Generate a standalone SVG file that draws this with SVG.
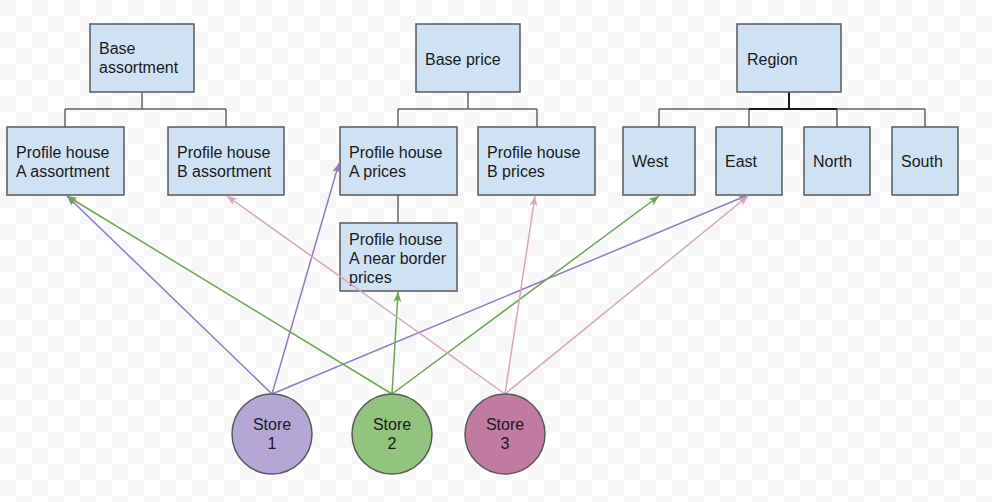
<svg xmlns="http://www.w3.org/2000/svg" width="992" height="502" viewBox="0 0 992 502">
<style>
.box{fill:#cfe2f3;stroke:#595959;stroke-width:1.5}
.t{font-family:"Liberation Sans",Arial,sans-serif;font-size:16px;fill:#1a1a1a}
.tc{font-family:"Liberation Sans",Arial,sans-serif;font-size:16px;fill:#1a1a1a;text-anchor:middle}
.tree{fill:none;stroke:#666;stroke-width:1.5}
.e{fill:none;stroke-width:1.5}
.p{stroke:#8e7cc3}
.g{stroke:#6aa84f}
.k{stroke:#d5a6bd}
.st{stroke:#595959;stroke-width:1.5}
</style>
<defs>
<pattern id="chk" width="32" height="32" patternUnits="userSpaceOnUse">
<rect width="32" height="32" fill="#ffffff"/>
<rect width="16" height="16" fill="#f6f6f6"/>
<rect x="16" y="16" width="16" height="16" fill="#f6f6f6"/>
</pattern>
<marker id="ap" viewBox="0 0 10 8" refX="10" refY="4" markerWidth="10" markerHeight="8" markerUnits="userSpaceOnUse" orient="auto"><path d="M0,0 L10,4 L0,8 L2.5,4 z" fill="#8e7cc3"/></marker>
<marker id="ag" viewBox="0 0 10 8" refX="10" refY="4" markerWidth="10" markerHeight="8" markerUnits="userSpaceOnUse" orient="auto"><path d="M0,0 L10,4 L0,8 L2.5,4 z" fill="#6aa84f"/></marker>
<marker id="ak" viewBox="0 0 10 8" refX="10" refY="4" markerWidth="10" markerHeight="8" markerUnits="userSpaceOnUse" orient="auto"><path d="M0,0 L10,4 L0,8 L2.5,4 z" fill="#d5a6bd"/></marker>
</defs>
<rect width="992" height="502" fill="url(#chk)"/>

<g id="tree-connectors">
<path class="tree" d="M142,92 V109 M65,109 H226 M65,109 V127 M226,109 V127"/>
<path class="tree" d="M468,92 V109 M398,109 H537 M398,109 V127 M537,109 V127 M398,195 V223"/>
<path class="tree" d="M659,109 H925 M659,109 V127 M749,109 V127 M837,109 V127 M925,109 V127"/>
<path d="M789,92 V109 M749,109 H837" fill="none" stroke="#1a1a1a" stroke-width="2"/>
</g>

<g id="base-assortment"><rect class="box" x="90" y="24" width="104" height="68"/><text class="t" x="99" y="54">Base</text><text class="t" x="99" y="73">assortment</text></g>
<g id="profile-a-assortment"><rect class="box" x="7" y="127" width="117" height="68"/><text class="t" x="16" y="158">Profile house</text><text class="t" x="16" y="177">A assortment</text></g>
<g id="profile-b-assortment"><rect class="box" x="168" y="127" width="116" height="68"/><text class="t" x="177" y="158">Profile house</text><text class="t" x="177" y="177">B assortment</text></g>

<g id="base-price"><rect class="box" x="416" y="24" width="104" height="68"/><text class="t" x="425" y="65">Base price</text></g>
<g id="profile-a-prices"><rect class="box" x="340" y="127" width="117" height="68"/><text class="t" x="349" y="158">Profile house</text><text class="t" x="349" y="177">A prices</text></g>
<g id="profile-b-prices"><rect class="box" x="478" y="127" width="117" height="68"/><text class="t" x="487" y="158">Profile house</text><text class="t" x="487" y="177">B prices</text></g>
<g id="profile-a-near-border"><rect class="box" x="340" y="223" width="117" height="68"/><text class="t" x="349" y="245">Profile house</text><text class="t" x="349" y="264">A near border</text><text class="t" x="349" y="283">prices</text></g>

<g id="region"><rect class="box" x="737" y="24" width="104" height="68"/><text class="t" x="747" y="65">Region</text></g>
<g id="west"><rect class="box" x="623" y="127" width="72" height="68"/><text class="t" x="632" y="167">West</text></g>
<g id="east"><rect class="box" x="716" y="127" width="66" height="68"/><text class="t" x="725" y="167">East</text></g>
<g id="north"><rect class="box" x="804" y="127" width="66" height="68"/><text class="t" x="813" y="167">North</text></g>
<g id="south"><rect class="box" x="892" y="127" width="66" height="68"/><text class="t" x="901" y="167">South</text></g>

<g id="connectors">
<line class="e p" x1="272" y1="394" x2="67" y2="196" marker-end="url(#ap)"/>
<line class="e p" x1="272" y1="394" x2="339" y2="163" marker-end="url(#ap)"/>
<line class="e p" x1="272" y1="394" x2="748" y2="195" marker-end="url(#ap)"/>
<line class="e g" x1="392" y1="394" x2="67" y2="196" marker-end="url(#ag)"/>
<line class="e g" x1="392" y1="394" x2="398" y2="292" marker-end="url(#ag)"/>
<line class="e g" x1="392" y1="394" x2="659" y2="196" marker-end="url(#ag)"/>
<line class="e k" x1="505" y1="394" x2="227" y2="196" marker-end="url(#ak)"/>
<line class="e k" x1="505" y1="394" x2="535" y2="196" marker-end="url(#ak)"/>
<line class="e k" x1="505" y1="394" x2="748" y2="196" marker-end="url(#ak)"/>
</g>

<g id="store-1"><circle class="st" cx="272" cy="434" r="40" fill="#b4a7d6"/><text class="tc" x="272" y="430">Store</text><text class="tc" x="272" y="449">1</text></g>
<g id="store-2"><circle class="st" cx="392" cy="434" r="40" fill="#93c47d"/><text class="tc" x="392" y="430">Store</text><text class="tc" x="392" y="449">2</text></g>
<g id="store-3"><circle class="st" cx="505" cy="434" r="40" fill="#c27ba0"/><text class="tc" x="505" y="430">Store</text><text class="tc" x="505" y="449">3</text></g>
</svg>
